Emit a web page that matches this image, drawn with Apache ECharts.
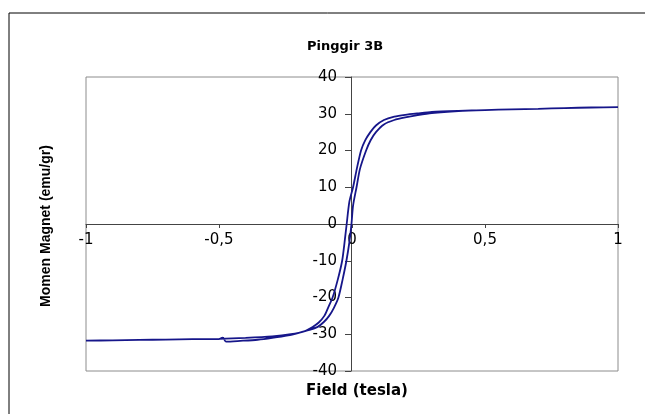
<!DOCTYPE html>
<html>
<head>
<meta charset="utf-8">
<script src="https://cdn.jsdelivr.net/npm/echarts@6/dist/echarts.min.js"></script>
<style>html,body{margin:0;padding:0;background:#fff;}#c{width:645px;height:414px;}</style>
</head>
<body>
<div id="c"></div>
<script>
// Descending branch (field from +1 to -1)
var fieldDesc = [1, 0.9, 0.8, 0.7, 0.6, 0.5, 0.4, 0.3, 0.247, 0.2, 0.159, 0.12, 0.09, 0.069, 0.05, 0.034, 0.018, 0.004, -0.01, -0.02, -0.028, -0.037, -0.053, -0.073, -0.09, -0.104, -0.125, -0.148, -0.18, -0.23, -0.3, -0.4, -0.5, -0.6, -0.7, -0.8, -0.9, -1];
var momentDesc = [31.8, 31.7, 31.55, 31.35, 31.2, 31.0, 30.8, 30.5, 30.1, 29.7, 29.2, 28.3, 26.8, 25.0, 22.8, 20.0, 15, 10, 6, 0, -5, -10, -15, -20, -22.8, -25, -26.8, -28.0, -29.2, -30.0, -30.6, -31.0, -31.25, -31.35, -31.45, -31.55, -31.65, -31.75];
// Ascending branch (field from -1 to +1)
var fieldAsc = [-1, -0.9, -0.8, -0.7, -0.6, -0.5, -0.486, -0.474, -0.42, -0.355, -0.3, -0.24, -0.2, -0.16, -0.129, -0.105, -0.086, -0.068, -0.051, -0.035, -0.021, -0.01, -0.002, 0.004, 0.017, 0.03, 0.053, 0.07, 0.09, 0.12, 0.159, 0.2, 0.247, 0.3, 0.4, 0.5, 0.6, 0.7, 0.8, 0.9, 1];
var momentAsc = [-31.75, -31.65, -31.55, -31.45, -31.35, -31.3, -30.9, -32.0, -31.8, -31.5, -31.0, -30.3, -29.6, -28.8, -28.0, -26.6, -25.0, -22.8, -20.0, -15, -10, -5, 0, 5, 10, 15, 20, 22.8, 25, 27.1, 28.3, 29.0, 29.6, 30.15, 30.7, 31.0, 31.2, 31.35, 31.55, 31.7, 31.8];

var titleText = 'Pinggir 3B';
var xName = 'Field (tesla)';
var yName = 'Momen Magnet (emu/gr)';

function zip(a, b) { return a.map(function (v, i) { return [v, b[i]]; }); }
var loop = zip(fieldDesc, momentDesc).concat(zip(fieldAsc, momentAsc));

var chart = echarts.init(document.getElementById('c'), null, {renderer: 'canvas'});
chart.setOption({
  animation: false,
  backgroundColor: '#fff',
  title: {
    text: titleText, left: 340, top: 35, textAlign: 'center',
    textStyle: {fontFamily: 'DejaVu Sans', fontWeight: 'bold', fontSize: 13, color: '#000'}
  },
  graphic: [{
    type: 'rect', shape: {x: 9, y: 13, width: 800, height: 600},
    style: {fill: 'none', stroke: '#000', lineWidth: 1}, silent: true
  }, {
    type: 'text', x: 357, y: 391,
    style: {text: xName, fontFamily: 'DejaVu Sans', fontWeight: 'bold', fontSize: 15, fill: '#000', align: 'center', verticalAlign: 'middle'}
  }, {
    type: 'text', x: 46, y: 226, rotation: Math.PI / 2,
    style: {text: yName, fontFamily: 'Liberation Sans', fontWeight: 'bold', fontSize: 14, fill: '#000', align: 'center', verticalAlign: 'middle'}
  }],
  grid: {left: 86, right: 27, top: 77, bottom: 43, show: true, borderColor: '#8c8c8c', borderWidth: 1, backgroundColor: 'transparent'},
  xAxis: {
    type: 'value', min: -1, max: 1, interval: 0.5, position: 'bottom', offset: -147,
    axisLine: {onZero: false, lineStyle: {color: '#444', width: 1}},
    axisTick: {show: true, length: 4, inside: false, lineStyle: {color: '#444'}},
    axisLabel: {margin: 9, fontFamily: 'DejaVu Sans', fontSize: 15, color: '#000',
      formatter: function (v) { return String(v).replace('.', ','); }},
    splitLine: {show: false}
  },
  yAxis: {
    type: 'value', min: -40, max: 40, interval: 10, position: 'left', offset: -265,
    axisLine: {show: true, onZero: false, lineStyle: {color: '#444', width: 1}},
    axisTick: {show: true, length: 6, inside: false, lineStyle: {color: '#444'}},
    axisLabel: {margin: 14, fontFamily: 'DejaVu Sans', fontSize: 15, color: '#000'},
    splitLine: {show: false}
  },
  series: [{
    type: 'line', data: loop, showSymbol: false, symbol: 'none', smooth: 0.25,
    lineStyle: {color: '#16168a', width: 1.8}, z: 1
  }]
});
</script>
</body>
</html>
